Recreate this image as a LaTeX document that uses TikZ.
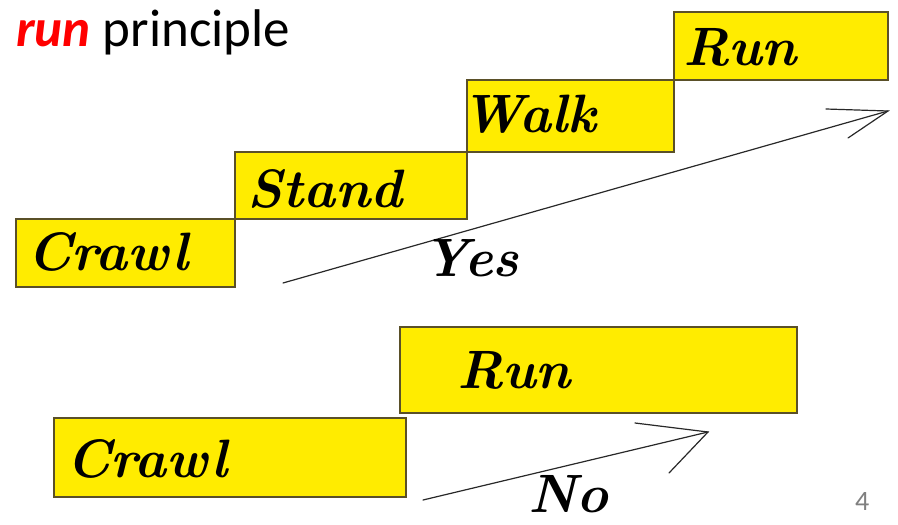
\documentclass[tikz,border=0pt]{standalone}
\usepackage{fontspec}
\newfontfamily\calib{Carlito}
\definecolor{boxyellow}{RGB}{255,236,0}
\definecolor{boxedge}{RGB}{90,80,40}
\definecolor{arrowgray}{RGB}{40,40,40}
\definecolor{pagegray}{RGB}{128,128,128}
\tikzset{
  stepbox/.style={draw=boxedge, fill=boxyellow, line width=1.2pt},
  steptext/.style={anchor=base west, inner sep=0pt, font=\fontsize{54}{60}\selectfont\bfseries\itshape},
  arrowline/.style={draw=arrowgray, line width=1.2pt, line cap=round},
}
\begin{document}
\begin{tikzpicture}[x=1pt, y=-1pt]
\useasboundingbox (0,0) rectangle (898,525);
% title
\node[anchor=base west, inner sep=0pt, font=\calib\fontsize{53}{60}\selectfont] (title) at (16,46)
  {\textcolor{red}{\bfseries\itshape run} principle};
% top staircase
\draw[stepbox] (16,219) rectangle (235,287);
\draw[stepbox] (235,152) rectangle (467,219);
\draw[stepbox] (467,80) rectangle (674,152);
\draw[stepbox] (674,12) rectangle (888,80);
\node[steptext] (crawlA) at (27,270) {Crawl};
\node[steptext] (stand) at (247,207) {Stand};
\node[steptext] (walk) at (461,132) {Walk};
\node[steptext] (runA) at (683,65) {Run};
% yes arrow
\coordinate (yS) at (283,283);
\coordinate (yT) at (888,111);
\coordinate (yB1) at (826,109);
\coordinate (yB2) at (848,138);
\draw[arrowline] (yS) -- (yT);
\draw[arrowline] (yB1) -- (yT) -- (yB2);
\node[steptext] (yes) at (422,276) {Yes};
% bottom
\draw[stepbox] (400,327) rectangle (797,413);
\draw[stepbox] (54,418) rectangle (406,497);
\node[steptext] (runB) at (457,388) {Run};
\node[steptext] (crawlB) at (66,477) {Crawl};
\coordinate (nS) at (423,500);
\coordinate (nT) at (708,432);
\coordinate (nB1) at (635,423);
\coordinate (nB2) at (669,473);
\draw[arrowline] (nS) -- (nT);
\draw[arrowline] (nB1) -- (nT) -- (nB2);
\node[steptext] (no) at (528,512) {No};
% page number
\node[anchor=base west, inner sep=0pt, font=\calib\fontsize{28}{32}\selectfont, text=pagegray] (page) at (855,510) {4};
\end{tikzpicture}
\end{document}
